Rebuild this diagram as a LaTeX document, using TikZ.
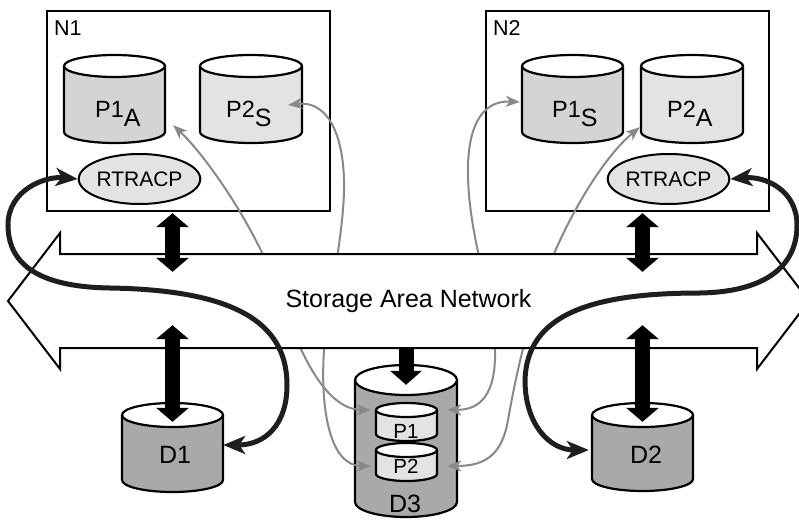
\documentclass[tikz,border=0pt]{standalone}
\usepackage{fontspec}
\setmainfont{Liberation Sans}
\usetikzlibrary{arrows.meta,calc,shapes.geometric}

\definecolor{dgray}{HTML}{A9A9A9}
\definecolor{mgray}{HTML}{D4D4D4}
\definecolor{lgray}{HTML}{E3E3E3}
\definecolor{agray}{HTML}{888888}
\definecolor{curvec}{HTML}{1E1E1E}

\tikzset{
 cylline/.style={line width=2.2pt, line join=round},
 cylnode/.style={inner sep=0pt, draw=none},
 nbox/.style={draw, line width=2.4pt, inner sep=0pt},
 rtr/.style={ellipse, draw, line width=2pt, fill=lgray, inner sep=0pt, minimum width=107pt, minimum height=50pt, font=\fontsize{21}{24}\selectfont},
 lab/.style={inner sep=0pt, font=\fontsize{23.5}{26}\selectfont},
 dlab/.style={inner sep=0pt, font=\fontsize{25}{27}\selectfont},
 plab/.style={inner sep=0pt, font=\fontsize{20.5}{23}\selectfont},
 nlab/.style={inner sep=0pt, font=\fontsize{21.5}{23}\selectfont},
 grayarr/.style={draw=agray, line width=2pt, {Stealth[length=14pt,width=11pt,inset=4pt]}-{Stealth[length=14pt,width=11pt,inset=4pt]}},
 thickarr/.style={draw=curvec, line width=5pt, {Stealth[length=22pt,width=18pt,inset=6pt]}-{Stealth[length=22pt,width=18pt,inset=6pt]}},
 bigdbl/.style={line width=15pt, {Triangle[length=14pt,width=32pt]}-{Triangle[length=14pt,width=32pt]}},
 bigone/.style={line width=15pt, -{Triangle[length=14pt,width=31pt]}},
 sanshape/.style={draw, line width=2pt, fill=white, line join=miter},
 sannode/.style={inner sep=0pt, minimum width=697pt, minimum height=94pt, font=\fontsize{25}{28}\selectfont},
}

\newcommand\subx[1]{\raisebox{-9.5pt}{\fontsize{25}{28}\selectfont #1}}

\newcommand\mycyl[7]{%
  \pgfmathsetmacro\cylcx{(#2+#3)/2}%
  \pgfmathsetmacro\cylrx{(#3-#2)/2}%
  \pgfmathsetmacro\cylyt{#4+#6}%
  \pgfmathsetmacro\cylyb{#5-#6}%
  \pgfmathsetmacro\cylw{#3-#2}%
  \pgfmathsetmacro\cylh{\cylyb-\cylyt}%
  \fill[#7] (#2,\cylyt) -- (#2,\cylyb) arc[start angle=180,end angle=360,x radius=\cylrx pt,y radius=#6 pt] -- (#3,\cylyt) -- cycle;
  \draw[cylline] (#2,\cylyt) -- (#2,\cylyb) arc[start angle=180,end angle=360,x radius=\cylrx pt,y radius=#6 pt] -- (#3,\cylyt);
  \filldraw[cylline,fill=white] (\cylcx,\cylyt) ellipse[x radius=\cylrx pt,y radius=#6 pt];
  \node[cylnode,minimum width=\cylw pt,minimum height=\cylh pt] (#1) at (\cylcx,{(\cylyt+\cylyb)/2}) {};
}

\begin{document}
\begin{tikzpicture}[x=1pt,y=-1pt]
\useasboundingbox (0,0) rectangle (799,519);
\clip (0,0) rectangle (799,519);

% node boxes
\node[nbox, minimum width=283pt, minimum height=200pt] (n1) at (188.5,111) {};
\node[nbox, minimum width=283pt, minimum height=200pt] (n2) at (627.5,111) {};
\node[nlab, anchor=base west] (n1lab) at (54,35.5) {N1};
\node[nlab, anchor=base west] (n2lab) at (493,35.5) {N2};

% cylinders
\mycyl{p1a}{64}{165}{55}{143}{11}{mgray}
\mycyl{p2s}{200}{302}{55}{143}{11}{lgray}
\mycyl{p1s}{522}{623}{55}{143}{11}{mgray}
\mycyl{p2a}{641}{743}{55}{143}{11}{lgray}
\mycyl{d1}{122}{223}{403}{492}{12}{dgray}
\mycyl{d2}{592}{693}{403}{491}{12}{dgray}
\mycyl{d3}{355}{457}{365}{517}{15}{dgray}
\mycyl{d3p1}{376}{437}{403}{441}{7}{lgray}
\mycyl{d3p2}{376}{437}{443}{481}{7}{lgray}

% labels
\node[lab, anchor=base west] (lp1a) at (95,117) {P1\subx{A}};
\node[lab, anchor=base west] (lp2s) at (226,117) {P2\subx{S}};
\node[lab, anchor=base west] (lp1s) at (552,117) {P1\subx{S}};
\node[lab, anchor=base west] (lp2a) at (667,117) {P2\subx{A}};
\node[dlab, anchor=base] (ld1) at (175,463) {D1};
\node[dlab, anchor=base] (ld2) at (646,463) {D2};
\node[dlab, anchor=base] (ld3) at (405,512) {D3};
\node[plab, anchor=base] (lp1) at (406,438) {P1};
\node[plab, anchor=base] (lp2) at (406,473) {P2};

% RTRACP
\node[rtr] (rt1) at (139.5,179) {RTRACP};
\node[rtr] (rt2) at (668.5,179) {RTRACP};

% gray replication arrows
\draw[grayarr] ($(d3p1.north west)+(-5,0)$) .. controls (325,410) and (298,350) .. (280,295) .. controls (255,225) and (205,155) .. ($(p1a.south east)+(8,-7)$);
\draw[grayarr] ($(d3p2.west)+(-5,4)$) .. controls (330,466) and (320,410) .. (324,350) .. controls (328,300) and (343,240) .. (344,190) .. controls (345,140) and (330,100) .. ($(p2s.east)+(-14,6)$);
\draw[grayarr] ($(d3p1.north east)+(10,0)$) .. controls (480,410) and (496,395) .. (495,350) .. controls (494,300) and (469,240) .. (468,175) .. controls (467,130) and (480,100) .. ($(p1s.west)+(-2,3)$);
\draw[grayarr] ($(d3p2.east)+(10,4)$) .. controls (485,466) and (502,455) .. (508,420) .. controls (515,380) and (525,335) .. (540,290) .. controls (560,230) and (600,160) .. ($(p2a.south west)+(-1,-5)$);

% SAN block arrow
\path[sanshape] (8,301) -- (60,233) -- (60,254) -- (757,254) -- (757,233) -- (809,301) -- (757,369) -- (757,348) -- (60,348) -- (60,369) -- cycle;
\node[sannode] (sanbody) at (408.5,301) {Storage Area Network};

% black vertical arrows
\draw[bigdbl] ($(n1.south -| d1.north)+(0,1)$) -- ($(d1.north |- sanbody.north)+(0,18)$);
\draw[bigdbl] ($(n2.south -| d2.north)+(0,1)$) -- ($(d2.north |- sanbody.north)+(0,18)$);
\draw[bigdbl] ($(d1.north |- sanbody.south)+(0,-23)$) -- ($(d1.north)+(0,7)$);
\draw[bigdbl] ($(d2.north |- sanbody.south)+(0,-23)$) -- ($(d2.north)+(0,7)$);
\draw[bigone] ($(d3.north |- sanbody.south)+(0,1)$) -- ($(d3.north)+(0,5)$);

% thick curved arrows
\draw[thickarr] (rt1.west) .. controls (45,176) and (8,190) .. (8,225) .. controls (8,265) and (40,287) .. (110,288) .. controls (230,290) and (287,320) .. (287,385) .. controls (287,425) and (265,445) .. ($(d1.east)+(0,-2.5)$);
\draw[thickarr] (rt2.east) .. controls (765,176) and (797,190) .. (797,225) .. controls (797,270) and (760,292) .. (700,293) .. controls (590,293) and (527,315) .. (525,380) .. controls (525,425) and (550,450) .. ($(d2.west)+(-3,3)$);
\end{tikzpicture}
\end{document}
